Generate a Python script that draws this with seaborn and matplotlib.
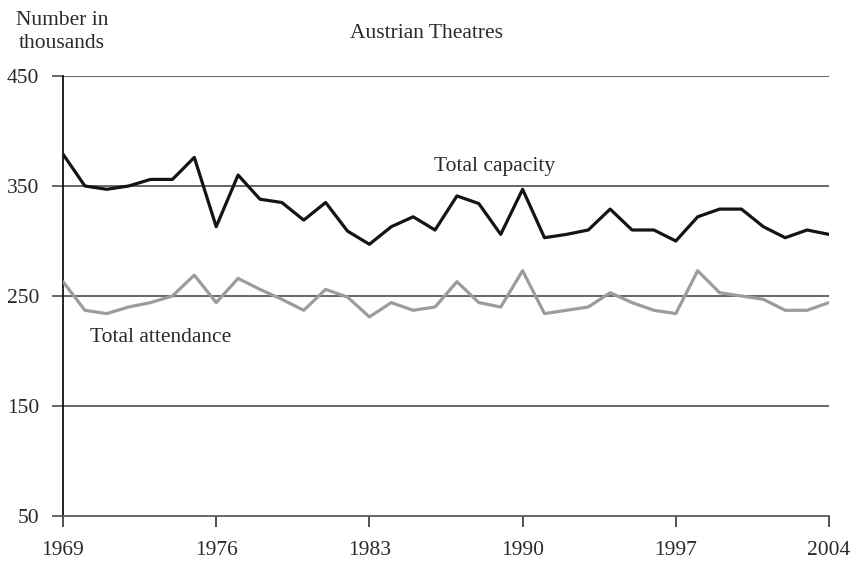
import numpy as np
import pandas as pd
import matplotlib
matplotlib.use("Agg")
import matplotlib.pyplot as plt
import seaborn as sns

years = list(range(1969, 2005))
capacity = [379, 350, 347, 350, 356, 356, 376, 313, 360, 338, 335, 319, 335, 309,
            297, 313, 322, 310, 341, 334, 306, 347, 303, 306, 310, 329, 310, 310,
            300, 322, 329, 329, 313, 303, 310, 306]
attendance = [263, 237, 234, 240, 244, 250, 269, 244, 266, 256, 247, 237, 256, 249,
              231, 244, 237, 240, 263, 244, 240, 273, 234, 237, 240, 253, 244, 237,
              234, 273, 253, 250, 247, 237, 237, 244]
y_ticks = [50, 150, 250, 350, 450]
x_ticks = [1969, 1976, 1983, 1990, 1997, 2004]

df = pd.DataFrame({"year": years, "Total capacity": capacity, "Total attendance": attendance})
long = df.melt(id_vars="year", var_name="series", value_name="value")

sns.set_style("white")
plt.rcParams["font.family"] = ["Liberation Serif", "DejaVu Serif"]

fig = plt.figure(figsize=(8.57, 5.65), dpi=100)
ax = fig.add_axes([63 / 857, 1 - 516 / 565, (829 - 63) / 857, (516 - 76) / 565])

grid_col = "#5a5a5a"
txt_col = "#2a2a2a"
fs = 15.5
for v in y_ticks[1:]:
    ax.axhline(v, color=grid_col, lw=1.3, zorder=1)

sns.lineplot(data=long, x="year", y="value", hue="series",
             palette={"Total capacity": "#141414", "Total attendance": "#9c9c9c"},
             linewidth=2.3, legend=False, ax=ax, zorder=3)

ax.set_xlim(1969, 2004)
ax.set_ylim(50, 450)
ax.set_xticks(x_ticks)
ax.set_yticks(y_ticks)
ax.set_xlabel("")
ax.set_ylabel("")
ax.tick_params(axis="x", length=8, width=1.2, color="#333333", labelsize=fs,
               pad=10, direction="out", bottom=True)
ax.tick_params(axis="y", length=8, width=1.3, color=grid_col, labelsize=fs,
               pad=9, direction="out", left=True)
for s in ["top", "right"]:
    ax.spines[s].set_visible(False)
ax.spines["bottom"].set_color(grid_col)
ax.spines["bottom"].set_linewidth(1.3)
ax.spines["left"].set_color("#111111")
ax.spines["left"].set_linewidth(1.3)
ax.spines["left"].set_bounds(50, 450)

for lab in ax.get_xticklabels() + ax.get_yticklabels():
    lab.set_color(txt_col)

fig.text(62 / 857, 1 - 32 / 565, "Number in\nthousands", ha="center", va="center",
         fontsize=fs, color=txt_col, linespacing=1.25)
fig.text(426 / 857, 1 - 33 / 565, "Austrian Theatres", ha="center", va="center",
         fontsize=fs, color=txt_col)
ax.text(1988.7, 368, "Total capacity", ha="center", va="center", fontsize=fs, color=txt_col)
ax.text(1973.45, 212, "Total attendance", ha="center", va="center", fontsize=fs, color=txt_col)

fig.savefig("out.png", dpi=100)
